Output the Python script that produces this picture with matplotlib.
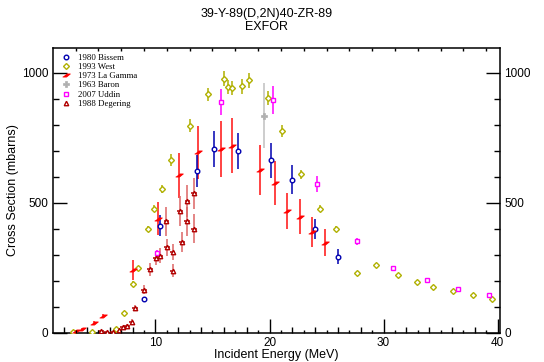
import matplotlib
matplotlib.use('Agg')
import matplotlib.pyplot as plt
from matplotlib.ticker import MultipleLocator, FixedLocator

plt.rcParams['font.family'] = ['Liberation Sans', 'DejaVu Sans']

# 1980 Bissem
bissem_e = [8.96, 10.39, 13.65, 15.1, 17.2, 20.13, 21.94, 23.97, 26.0]
bissem_xs = [129, 412, 623, 707, 699, 663, 589, 400, 293]
bissem_err = [10, 40, 61, 70, 70, 67, 56, 39, 29]

# 1993 West
west_e = [2.8, 4.4, 6.55, 7.26, 8.05, 8.44, 9.35, 9.86, 10.54, 11.38, 13.07, 14.65,
          15.99, 16.4, 16.71, 17.59, 18.17, 19.9, 21.12, 22.79, 24.41, 25.79,
          27.68, 29.35, 31.24, 32.9, 34.3, 36.11, 37.86, 39.5]
west_xs = [2, 2, 15, 75, 189, 248, 400, 477, 553, 663, 797, 917,
           977, 946, 942, 948, 971, 904, 776, 609, 477, 399,
           231, 261, 221, 195, 177, 160, 144, 131]
west_err = [2, 2, 3, 5, 8, 9, 12, 14, 16, 23, 25, 26,
            29, 28, 28, 28, 29, 27, 23, 18, 14, 12,
            7, 8, 7, 6, 5, 5, 4, 4]

# 1973 La Gamma
lagamma_e = [3.04, 3.55, 4.6, 5.4, 8.0, 10.24, 12.08, 13.74, 15.75, 16.71,
             19.2, 20.45, 21.53, 22.7, 23.71, 24.88]
lagamma_xs = [6, 15, 39, 65, 240, 438, 605, 694, 707, 720,
              627, 576, 469, 447, 386, 347]
lagamma_err = [3, 4, 5, 6, 39, 64, 87, 103, 107, 107,
               96, 85, 70, 67, 58, 53]

# 1963 Baron
baron_e = [19.51]
baron_xs = [835]
baron_err = [125]

# 2007 Uddin
uddin_e = [10.1, 15.75, 20.33, 24.15, 27.68, 30.8, 33.8, 36.55, 39.2]
uddin_xs = [305, 888, 896, 572, 351, 247, 203, 168, 146]
uddin_err = [12, 51, 55, 30, 12, 10, 9, 8, 7]

# 1988 Degering
degering_e = [5.23, 5.72, 6.25, 6.83, 7.18, 7.53, 7.91, 8.2, 9.02, 9.55, 10.04,
              10.4, 10.97, 11.03, 11.5, 11.5, 12.14, 12.34, 12.81, 12.75, 13.39, 13.35]
degering_xs = [6, 4, 4, 12, 20, 26, 43, 95, 165, 245, 287,
               296, 428, 328, 310, 239, 467, 348, 506, 428, 537, 400]
degering_err = [3, 3, 3, 4, 5, 6, 8, 12, 18, 25, 28,
                29, 55, 32, 30, 24, 58, 39, 61, 55, 60, 55]
degering_de = 0.25

fig = plt.figure(figsize=(5.44, 3.62), dpi=100)
ax = fig.add_axes([0.097, 0.081, 0.822, 0.786])

slash = [(-1.0, -0.4), (0.0, -0.4), (1.0, 0.4), (0.0, 0.4)]

ax.errorbar(lagamma_e, lagamma_xs, yerr=lagamma_err, fmt='none', ecolor='#ff1010',
            elinewidth=1.1, capsize=0, zorder=2)
ax.errorbar(degering_e, degering_xs, yerr=degering_err, fmt='none', ecolor='#dc6464',
            elinewidth=1.1, capsize=0, zorder=2)
ax.errorbar(degering_e, degering_xs, xerr=degering_de, fmt='none', ecolor='#b00000',
            elinewidth=1.1, capsize=0, zorder=3)
ax.errorbar(bissem_e, bissem_xs, yerr=bissem_err, fmt='none', ecolor='#0000b0',
            elinewidth=1.1, capsize=0, zorder=2)
ax.errorbar(west_e, west_xs, yerr=west_err, fmt='none', ecolor='#b0b000',
            elinewidth=1.1, capsize=0, zorder=2)
ax.errorbar(baron_e, baron_xs, yerr=baron_err, fmt='none', ecolor='#c0c0c0',
            elinewidth=1.1, capsize=0, zorder=2)
ax.errorbar(uddin_e, uddin_xs, yerr=uddin_err, fmt='none', ecolor='#ff00ff',
            elinewidth=1.1, capsize=0, zorder=2)

ax.plot(bissem_e, bissem_xs, 'o', ms=3.3, mfc='white', mec='#0000b0', mew=1.0,
        ls='none', label='1980 Bissem', zorder=4)
ax.plot(west_e, west_xs, 'D', ms=3.0, mfc='white', mec='#b0b000', mew=1.0,
        ls='none', label='1993 West', zorder=4)
ax.plot(lagamma_e, lagamma_xs, marker=slash, ms=5.5, mfc='#ff0000', mec='#ff0000', mew=0.6,
        ls='none', label='1973 La Gamma', zorder=4)
ax.plot(baron_e, baron_xs, 'P', ms=4.2, mfc='#b0b0b0', mec='#b0b0b0', mew=0.5,
        ls='none', label='1963 Baron', zorder=4)
ax.plot(uddin_e, uddin_xs, 's', ms=3.3, mfc='white', mec='#ff00ff', mew=1.0,
        ls='none', label='2007 Uddin', zorder=4)
ax.plot(degering_e, degering_xs, '^', ms=3.2, mfc='white', mec='#b00000', mew=1.0,
        ls='none', label='1988 Degering', zorder=4)

ax.set_xlim(1.0, 40.2)
ax.set_ylim(0, 1095)

ax.xaxis.set_major_locator(MultipleLocator(10))
ax.xaxis.set_minor_locator(FixedLocator([v for v in range(2, 41, 2) if v % 10]))
ax.yaxis.set_major_locator(MultipleLocator(500))
ax.yaxis.set_minor_locator(MultipleLocator(100))
ax.tick_params(which='both', direction='in', top=True, right=True,
               labeltop=True, labelright=True, labelsize=8.5, width=1.0)
ax.tick_params(which='major', length=10, pad=3)
ax.tick_params(which='minor', length=4.3)
for s in ax.spines.values():
    s.set_linewidth(1.1)

# short ticks on the odd energies
odd = ax.twiny()
odd.set_xlim(ax.get_xlim())
odd.xaxis.set_major_locator(FixedLocator([v for v in range(2, 41) if v % 2]))
odd.tick_params(which='major', direction='in', length=2.2, width=1.0, top=True,
                bottom=True, labeltop=False, labelbottom=False)
odd.xaxis.set_minor_locator(FixedLocator([]))
for s in odd.spines.values():
    s.set_visible(False)

ax.set_xlabel('Incident Energy (MeV)', fontsize=9, labelpad=0)
ax.set_ylabel('Cross Section (mbarns)', fontsize=9, labelpad=2)

fig.text(0.49, 0.961, '39-Y-89(D,2N)40-ZR-89', ha='center', va='center', fontsize=9)
fig.text(0.49, 0.925, 'EXFOR', ha='center', va='center', fontsize=9)

ax.legend(loc='upper left', bbox_to_anchor=(0.02, 0.98), frameon=False,
          prop={'family': 'Liberation Serif', 'size': 6.3}, handlelength=1.0,
          handletextpad=0.9, labelspacing=0.12, borderpad=0, borderaxespad=0,
          markerscale=1.0)

fig.savefig('out.png', dpi=100)
